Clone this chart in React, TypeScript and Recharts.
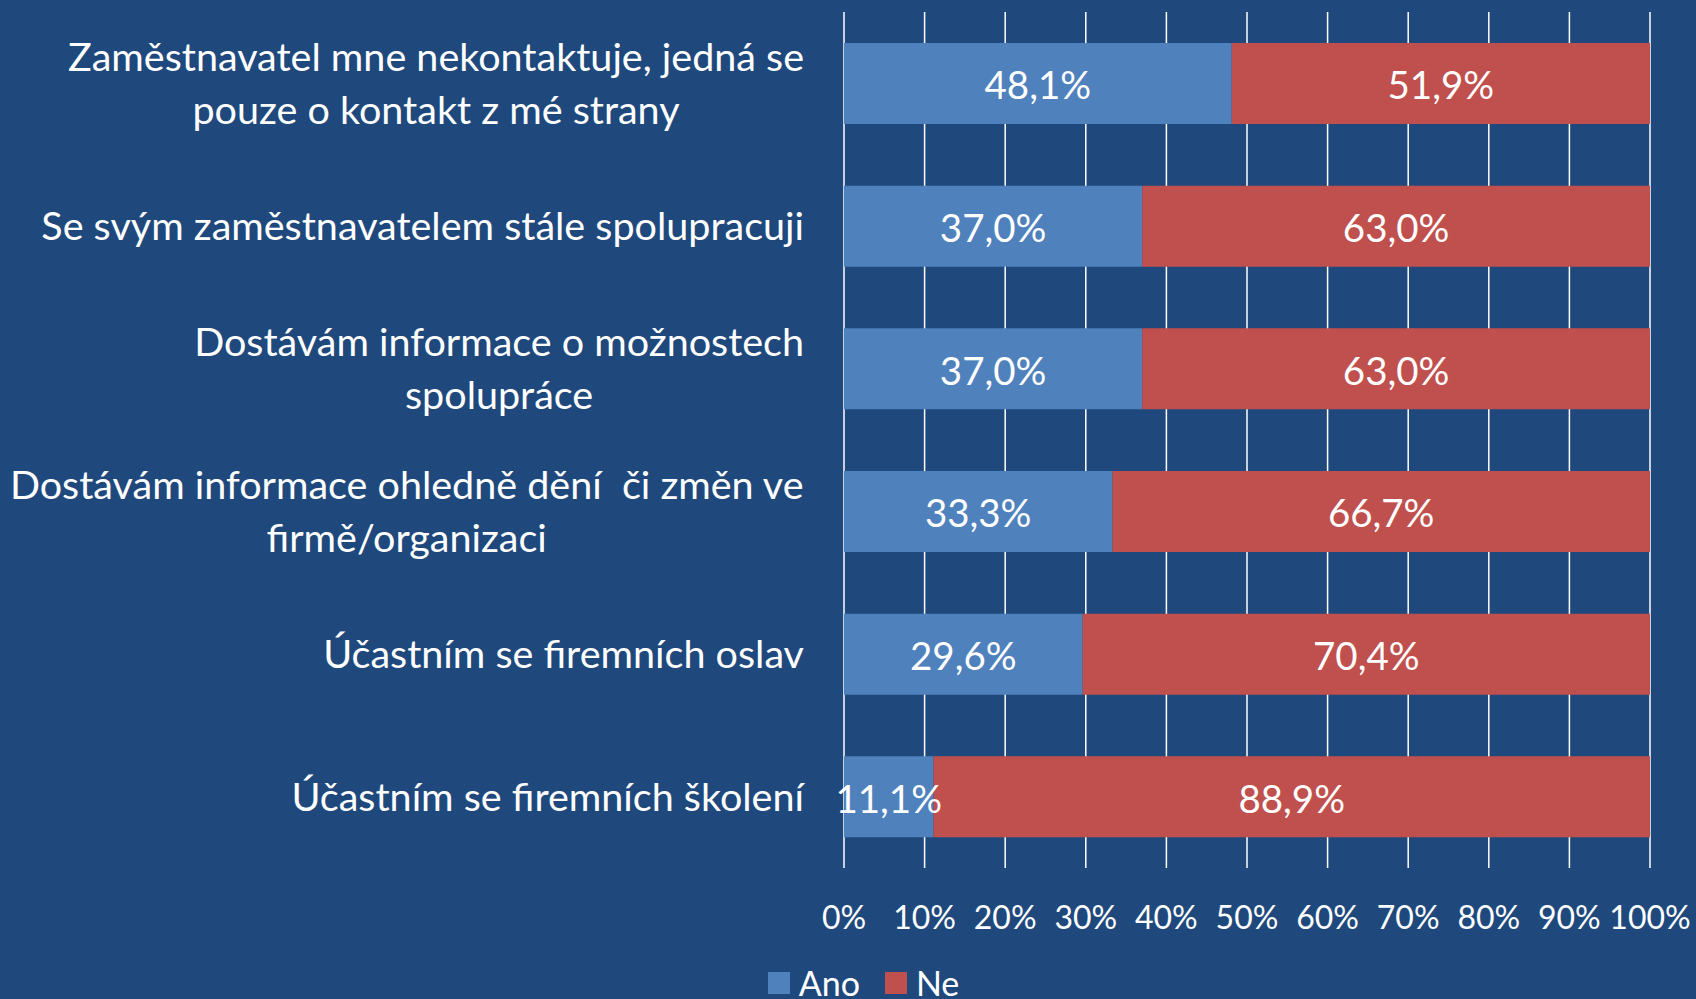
import React from 'react';
import { BarChart, Bar, XAxis, YAxis, CartesianGrid, Legend, LabelList } from 'recharts';

const categories = [
    'Zaměstnavatel mne nekontaktuje, jedná se\npouze o kontakt z mé strany',
    'Se svým zaměstnavatelem stále spolupracuji',
    'Dostávám informace o možnostech\nspolupráce',
    'Dostávám informace ohledně dění  či změn ve\nfirmě/organizaci',
    'Účastním se firemních oslav',
    'Účastním se firemních školení',
];
const ano = [48.1, 37.0, 37.0, 33.3, 29.6, 11.1];
const ne = [51.9, 63.0, 63.0, 66.7, 70.4, 88.9];
const xTicks = [0, 10, 20, 30, 40, 50, 60, 70, 80, 90, 100];
const series = [
    { key: 'Ano', color: '#4F81BD' },
    { key: 'Ne', color: '#C0504D' },
];

const data = categories.map((c, i) => ({ name: c, Ano: ano[i], Ne: ne[i] }));

const FONT = 'Lato, "Open Sans", sans-serif';
const LABEL_SIZE = 39.5;

let ctx: CanvasRenderingContext2D | null = null;
const measure = (s: string) => {
    if (!ctx) ctx = document.createElement('canvas').getContext('2d');
    if (!ctx) return s.length * LABEL_SIZE * 0.45;
    ctx.font = `${LABEL_SIZE}px Lato`;
    return ctx.measureText(s).width;
};

const CategoryTick = (props: any) => {
    const { x, y, payload } = props;
    const lines: string[] = String(payload.value).split('\n');
    const w = Math.max(...lines.map(measure));
    const cx = x - w / 2;
    const lh = 53;
    const y0 = y - ((lines.length - 1) * lh) / 2;
    return (
        <g>
            {lines.map((l, i) => (
                <text key={i} x={cx} y={y0 + i * lh} dy="0.36em" textAnchor="middle" fill="#fff"
                    fontSize={LABEL_SIZE} fontFamily={FONT} style={{ whiteSpace: 'pre' }}>
                    {l}
                </text>
            ))}
        </g>
    );
};

const LegendBox = () => (
    <div style={{ display: 'flex', justifyContent: 'center', alignItems: 'center', height: 40, paddingTop: 4,
        paddingLeft: 102, fontFamily: FONT, fontSize: 34, color: '#fff', lineHeight: 1 }}>
        {series.map((s) => (
            <div key={s.key} style={{ display: 'flex', alignItems: 'center', marginRight: 25 }}>
                <span style={{ display: 'inline-block', width: 22, height: 22, background: s.color, marginRight: 9 }} />
                <span>{s.key}</span>
            </div>
        ))}
    </div>
);

const fmt = (v: any) => Number(v).toFixed(1).replace('.', ',') + '%';

export default function App() {
    return (
        <div style={{ position: 'absolute', left: 0, top: 0, width: 1696, height: 999, background: '#1F497D', overflow: 'hidden' }}>
            <BarChart width={1696} height={999} data={data} layout="vertical"
                margin={{ top: 12, right: 46, bottom: 0, left: 0 }} barSize={81}>
                <CartesianGrid horizontal={false} stroke="#ffffff" strokeWidth={1.5} />
                <XAxis type="number" domain={[0, 100]} ticks={xTicks} tickFormatter={(v) => v + '%'}
                    axisLine={false} tickLine={false} height={91} tickMargin={32} interval={0}
                    tick={{ fill: '#fff', fontSize: 32, fontFamily: FONT }} />
                <YAxis type="category" dataKey="name" width={844} axisLine={false} tickLine={false}
                    tickSize={0} tickMargin={40} tick={<CategoryTick />} interval={0} />
                <Legend height={40} content={<LegendBox />} />
                {series.map((s) => (
                    <Bar key={s.key} dataKey={s.key} stackId="a" fill={s.color} isAnimationActive={false}>
                        <LabelList dataKey={s.key} position="center" formatter={fmt} fill="#fff" fontSize={38.5}
                            fontFamily={FONT} dy={2} />
                    </Bar>
                ))}
            </BarChart>
        </div>
    );
}
